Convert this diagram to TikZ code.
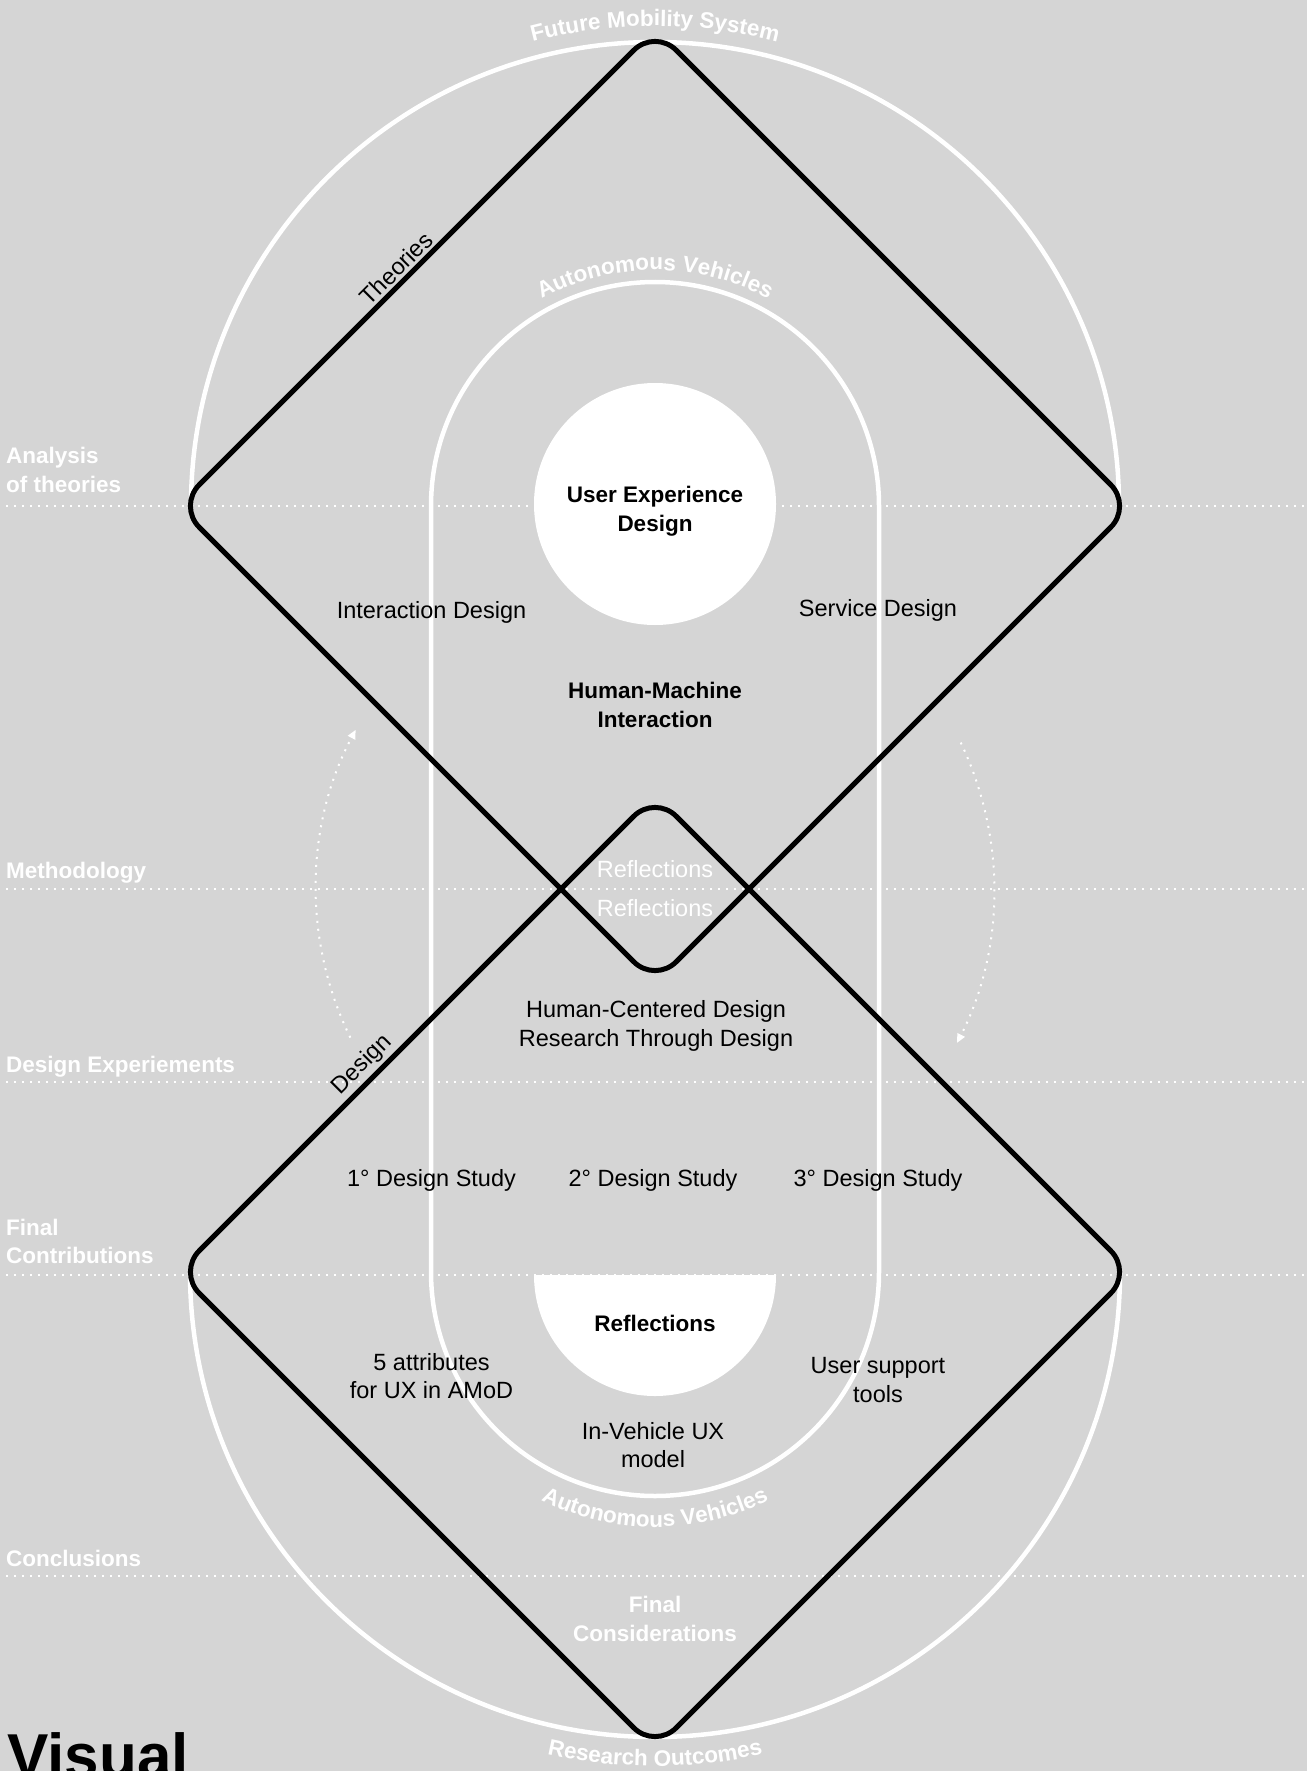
\documentclass[tikz,border=0pt]{standalone}
\usepackage{fontspec}
\setmainfont{Liberation Sans}
\usetikzlibrary{calc,decorations.text,arrows.meta}
\definecolor{bg}{RGB}{213,213,213}
\begin{document}
\begin{tikzpicture}[x=1pt,y=-1pt,
  diam/.style={draw=black,line width=5pt,rounded corners=30pt},
  ring/.style={draw=white,line width=4.5pt},
  guide/.style={draw=white,line width=2pt,dash pattern=on 2pt off 6pt},
  cycarrow/.style={draw=white,line width=2pt,dash pattern=on 2pt off 6pt,-{Triangle[length=9pt,width=8pt]}},
  lbl/.style={text=black,font=\fontsize{23.5}{28.5}\selectfont,align=center,inner sep=0pt},
  lblb/.style={lbl,font=\bfseries\fontsize{22.5}{28.5}\selectfont},
  side/.style={text=white,font=\bfseries\fontsize{22.5}{28.5}\selectfont,anchor=base west,inner sep=0pt},
  edgelbl/.style={lbl,rotate=45,anchor=south,inner sep=5pt},
  arctext/.style={decorate,decoration={text along path,text align=center,text color=white,text={|\bfseries\fontsize{22.5}{27}\selectfont|#1}}}
]
\useasboundingbox (0,0) rectangle (1307,1771);
\fill[bg] (0,0) rectangle (1307,1771);

% centres of the two halves and of the crossing
\coordinate (cU) at (655,506);
\coordinate (cL) at (655,1272);
\coordinate (cM) at (655,889);

% corners of the two diamonds
\coordinate (uT) at (655,29);
\coordinate (uR) at (1132,506);
\coordinate (uB) at (655,983);
\coordinate (uL) at (178,506);
\coordinate (lT) at (655,795);
\coordinate (lR) at (1132,1272);
\coordinate (lB) at (655,1749);
\coordinate (lL) at (178,1272);

% phase separators
\foreach \yy in {506,889,1082,1275,1576}
  \draw[guide] (6,\yy) -- (1307,\yy);

% outer half circles
\draw[ring] ($(cU)+(-464,0)$) arc[start angle=180,end angle=0,radius=464pt];
\draw[ring] ($(cL)+(-465,0)$) arc[start angle=180,end angle=360,radius=465pt];

% inner track
\draw[ring] ($(cU)+(-224,0)$) arc[start angle=180,end angle=0,radius=224pt]
  -- ($(cL)+(224,0)$) arc[start angle=0,end angle=-180,radius=224pt] -- cycle;

% white discs
\fill[white] (655,504) circle[radius=121pt];
\fill[white] (534,1275) arc[start angle=180,end angle=360,radius=121pt] -- cycle;

% iteration arrows
\draw[cycarrow] ($(cM)+(206:339pt)$) arc[start angle=206,end angle=152,radius=339pt];
\draw[cycarrow] ($(cM)+(25.6:339pt)$) arc[start angle=25.6,end angle=-27,radius=339pt];

% the two diamonds
\draw[diam] ($(uL)!0.5!(uT)$) -- (uT) -- (uR) -- (uB) -- (uL) -- cycle;
\draw[diam] ($(lL)!0.5!(lT)$) -- (lT) -- (lR) -- (lB) -- (lL) -- cycle;

% curved titles
\path[arctext={Future Mobility System}] ($(cU)+(110:480pt)$) arc[start angle=110,end angle=70,radius=480pt];
\path[arctext={Autonomous Vehicles}] ($(cU)+(130:236pt)$) arc[start angle=130,end angle=50,radius=236pt];
\path[arctext={Autonomous Vehicles}] ($(cL)+(230:255pt)$) arc[start angle=230,end angle=310,radius=255pt];
\path[arctext={Research Outcomes}] ($(cL)+(250:494pt)$) arc[start angle=250,end angle=290,radius=494pt];

% phase names
\node[side] (s1a) at (6,463) {Analysis};
\node[side] (s1b) at (6,492) {of theories};
\node[side] (s2) at (6,878) {Methodology};
\node[side] (s3) at (6,1072) {Design Experiements};
\node[side] (s4a) at (6,1235) {Final};
\node[side] (s4b) at (6,1263) {Contributions};
\node[side] (s5) at (6,1566) {Conclusions};

% contents
\node[lblb] (ux) at (655,511) {User Experience\\Design};
\node[lblb] (hmi) at (655,705) {Human-Machine\\Interaction};
\node[lbl] (ixd) at (431.5,612) {Interaction Design};
\node[lbl] (svd) at (878,610) {Service Design};
\node[lbl,text=white] (refl1) at (655,869) {Reflections};
\node[lbl,text=white] (refl2) at (655,908) {Reflections};
\node[lbl] (hcd) at (656,1026) {Human-Centered Design\\Research Through Design};
\node[lbl] (ds1) at (431.5,1180) {1° Design Study};
\node[lbl] (ds2) at (653,1180) {2° Design Study};
\node[lbl] (ds3) at (878,1180) {3° Design Study};
\node[lblb] (reflb) at (655,1323) {Reflections};
\node[lbl] (attr) at (431.5,1376) {5 attributes\\for UX in AMoD};
\node[lbl] (ust) at (878,1380) {User support\\tools};
\node[lbl] (ivux) at (653,1445) {In-Vehicle UX\\model};
\node[lblb,text=white] (fincons) at (655,1619) {Final\\Considerations};

% labels along the diamond edges
\node[edgelbl] (theories) at ($(uL)!0.478!(uT)$) {Theories};
\node[edgelbl] (design) at ($(lL)!0.41!(lT)$) {Design};

\node[anchor=base west,inner sep=0pt,font=\bfseries\fontsize{62}{62}\selectfont] (vis) at (7,1777) {Visual};
\end{tikzpicture}
\end{document}
